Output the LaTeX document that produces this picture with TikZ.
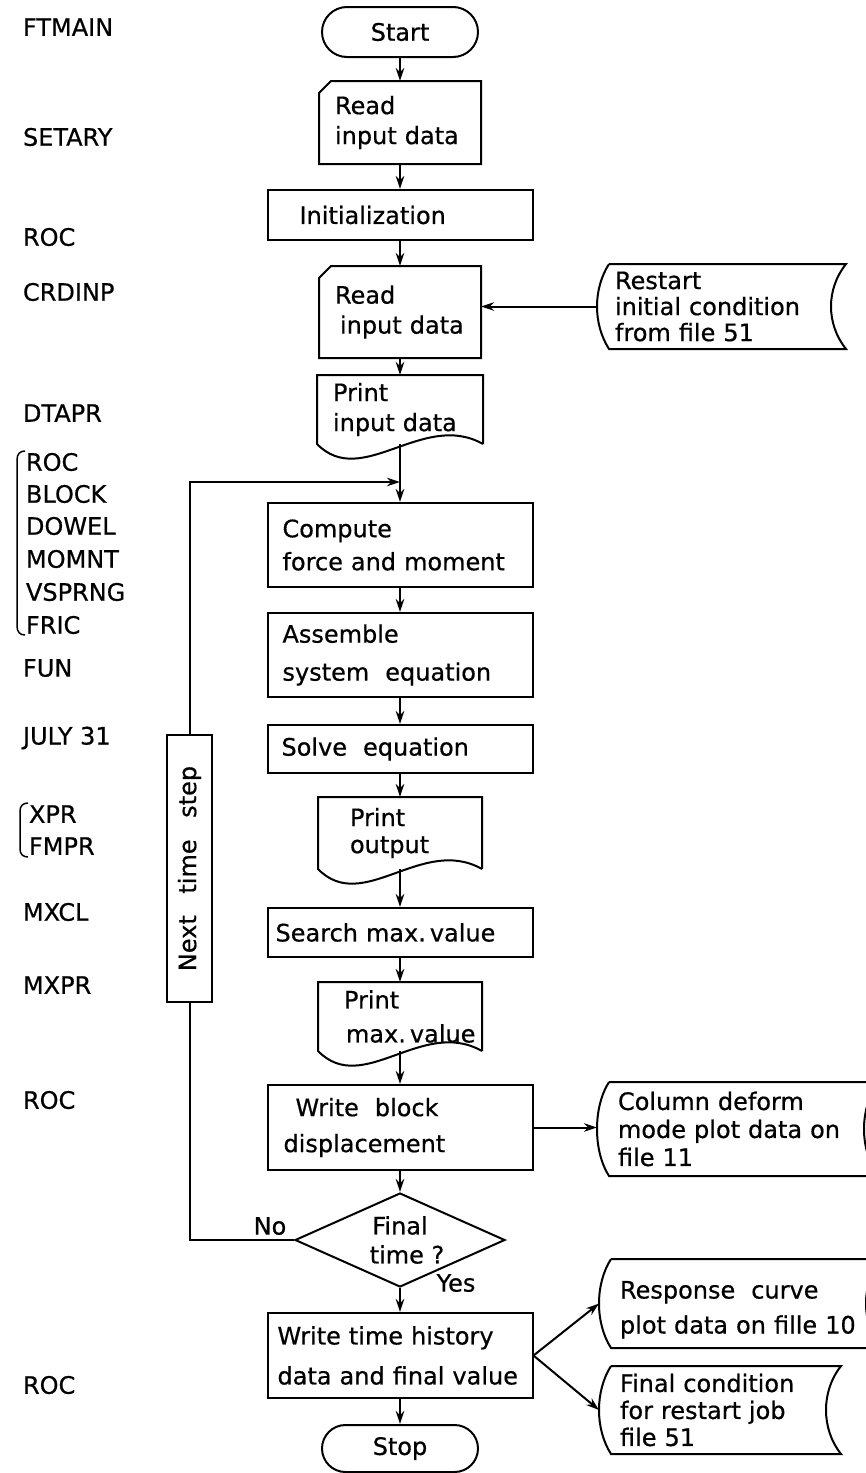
\documentclass[tikz,border=0pt]{standalone}
\usepackage{fontspec}
\setmainfont{DejaVu Sans}[BoldFont={DejaVu Sans},BoldFeatures={FakeBold=0.6}]
\usetikzlibrary{shapes.geometric,shapes.misc,arrows.meta}
\newcommand\mfont{\fontsize{24}{30}\selectfont\bfseries}
\begin{document}
\begin{tikzpicture}[x=1pt,y=-1pt,
  line width=2pt,
  every node/.style={font=\mfont},
  proc/.style={draw, rectangle, inner ysep=0pt, align=left},
  term/.style={draw, rounded rectangle, minimum width=156pt, inner sep=0pt},
  plain/.style={draw=none, rectangle, inner ysep=0pt, align=left},
  arr/.style={-{Stealth[length=13pt,width=8.5pt]}},
  lab/.style={anchor=west, inner sep=0pt},
  brk/.style={line width=1.5pt}
]
\useasboundingbox (0,0) rectangle (866,1473);
\fill[white] (0,0) rectangle (866,1473);
\clip (0,0) rectangle (866,1473);

% ---------- main column ----------
\node[term, minimum height=50pt] (start) at (400,32) {Start};
\node[plain, minimum width=160pt, minimum height=81pt, inner xsep=15pt, text width=130pt] (read1) at (400,122.5) {Read\\input\ data};
\node[proc, minimum width=265pt, minimum height=50pt, inner xsep=14pt, text width=237pt] (init) at (400,215) {\hspace*{18pt}Initialization};
\node[plain, minimum width=160pt, minimum height=90pt, inner xsep=15pt, text width=130pt] (read2) at (400,312) {Read\\\hspace*{5pt}input\ data};
\node[plain, minimum width=247pt, minimum height=83pt, inner xsep=17pt, text width=213pt, font=\fontsize{24}{26}\selectfont\bfseries] (restart) at (721.5,306.5) {Restart\\initial condition\\from file\ 51};
\node[plain, minimum width=164pt, minimum height=67pt, inner xsep=15pt, text width=134pt] (print1) at (400,409.5) {Print\\input\ data};
\node[proc, minimum width=265pt, minimum height=84pt, inner xsep=15pt, text width=235pt, font=\fontsize{24}{33}\selectfont\bfseries] (compute) at (400,545) {Compute\\force\ and\ moment};
\node[proc, minimum width=265pt, minimum height=84pt, inner xsep=15pt, text width=235pt, font=\fontsize{24}{38}\selectfont\bfseries] (assemble) at (400,655) {Assemble\\system\ \ equation};
\node[proc, minimum width=265pt, minimum height=48pt, inner xsep=14pt, text width=237pt] (solve) at (400,749) {Solve\ \ equation};
\node[plain, minimum width=162pt, minimum height=70pt, inner xsep=15pt, text width=132pt, font=\fontsize{24}{27}\selectfont\bfseries] (print2) at (400,833) {\hspace*{16pt}Print\\\hspace*{16pt}output};
\node[proc, minimum width=265pt, minimum height=49pt, inner xsep=8pt, text width=249pt] (search) at (400,932.5) {Search max.\,value};
\node[plain, minimum width=162pt, minimum height=67pt, inner xsep=15pt, text width=132pt, font=\fontsize{24}{34}\selectfont\bfseries] (print3) at (400,1016.5) {\hspace*{10pt}Print\\\hspace*{12pt}max.\,value};
\node[proc, minimum width=265pt, minimum height=85pt, inner xsep=16pt, text width=233pt, font=\fontsize{24}{36}\selectfont\bfseries] (wblock) at (400,1127.5) {\hspace*{12pt}Write\ \ block\\displacement};
\node[plain, minimum width=280pt, minimum height=92pt, inner xsep=20pt, text width=240pt, font=\fontsize{24}{28}\selectfont\bfseries] (column) at (738,1129) {Column\ deform\\mode\ plot\ data on\\file\ 11};
\node[draw, diamond, minimum width=210pt, minimum height=94pt, inner sep=0pt, aspect=2.2, align=center, font=\fontsize{24}{29}\selectfont\bfseries] (dec) at (400,1240) {Final\\\hspace*{14pt}time ?};
\node[proc, minimum width=265pt, minimum height=85pt, inner xsep=10pt, text width=245pt, font=\fontsize{24}{40}\selectfont\bfseries] (wtime) at (400,1355.5) {Write\ time\ history\\data\ and final value};
\node[plain, minimum width=280pt, minimum height=87pt, inner xsep=20pt, text width=240pt, font=\fontsize{24}{35}\selectfont\bfseries] (resp) at (740,1303.5) {\rule{0pt}{30pt}Response\ \ curve\\plot data on fille 10};
\node[plain, minimum width=240pt, minimum height=86pt, inner xsep=20pt, text width=200pt, font=\fontsize{24}{27}\selectfont\bfseries] (fcond) at (720,1410) {Final\ condition\\for\ restart\ job\\file\ 51};
\node[term, minimum height=47pt] (stop) at (400,1448.5) {Stop};
\node[proc, rotate=90, minimum width=267pt, minimum height=45pt, inner sep=0pt, align=center] (nts) at (189.5,868.5) {Next\hspace{0.9em}time\hspace{0.9em}step};

% ---------- outlines of special shapes ----------
% punched cards
\foreach \n in {read1,read2}{
  \draw ([xshift=12pt]\n.north west) -- (\n.north east) -- (\n.south east) -- (\n.south west) -- ([yshift=-12pt]\n.north west) -- cycle;
}
% documents
\foreach \n in {print1,print2,print3}{
  \draw (\n.south east) -- (\n.north east) -- (\n.north west) -- (\n.south west)
        .. controls +(45,46) and +(-60,-34) .. (\n.south east);
}
% stored data
\foreach \n in {restart,column,resp,fcond}{
  \draw ([xshift=12pt]\n.north west) -- (\n.north east)
        .. controls +(-20,25) and +(-20,-25) .. (\n.south east)
        -- ([xshift=12pt]\n.south west)
        .. controls +(-16,-25) and +(-16,25) .. ([xshift=12pt]\n.north west);
}

% ---------- connectors ----------
\coordinate (join) at (400,482);
\draw[arr] (start) -- (read1);
\draw[arr] (read1) -- (init);
\draw[arr] (init) -- (read2);
\draw[arr] (restart.west) -- (restart.west -| read2.east);
\draw[arr] (read2) -- (print1);
\draw[arr] (print1.south) -- (compute.north);
\draw[arr] (compute) -- (assemble);
\draw[arr] (assemble) -- (solve);
\draw[arr] (solve) -- (print2);
\draw[arr] (print2.south) -- (search.north);
\draw[arr] (search) -- (print3);
\draw[arr] (print3.south) -- (wblock.north);
\draw[arr] (wblock) -- (dec);
\draw[arr] (wblock.east) -- (wblock.east -| column.west);
\draw[arr] (dec) -- (wtime);
\draw[arr] (wtime) -- (stop);
\draw[arr] (wtime.east) -- (resp.west);
\draw[arr] (wtime.east) -- (fcond.west);
\draw (dec.west) -| (nts.west);
\draw[arr] (nts.east) |- (join);

\node (no) at (270,1226) {No};
\node (yes) at (456,1283) {Yes};

% ---------- subroutine names ----------
\node[lab] (l1) at (22,27) {FTMAIN};
\node[lab] (l2) at (22,137) {SETARY};
\node[lab] (l3) at (22,237) {ROC};
\node[lab] (l4) at (22,292) {CRDINP};
\node[lab] (l5) at (22,413) {DTAPR};
\node[lab] (l6) at (25,462) {ROC};
\node[lab] (l7) at (25,494) {BLOCK};
\node[lab] (l8) at (25,526) {DOWEL};
\node[lab] (l9) at (25,559) {MOMNT};
\node[lab] (l10) at (25,592) {VSPRNG};
\node[lab] (l11) at (25,625) {FRIC};
\node[lab] (l12) at (22,668) {FUN};
\node[lab] (l13) at (22,738) {JULY\ 31};
\node[lab] (l14) at (28,814) {XPR};
\node[lab] (l15) at (28,846) {FMPR};
\node[lab] (l16) at (22,912) {MXCL};
\node[lab] (l17) at (22,985) {MXPR};
\node[lab] (l18) at (22,1100) {ROC};
\node[lab] (l19) at (22,1385) {ROC};

\draw[brk] (25,451) .. controls (20,451) and (17,454) .. (17,460) -- (17,626) .. controls (17,632) and (20,635) .. (25,635);
\draw[brk] (28,803) .. controls (23,803) and (20,806) .. (20,811) -- (20,849) .. controls (20,854) and (23,857) .. (28,857);
\end{tikzpicture}
\end{document}
